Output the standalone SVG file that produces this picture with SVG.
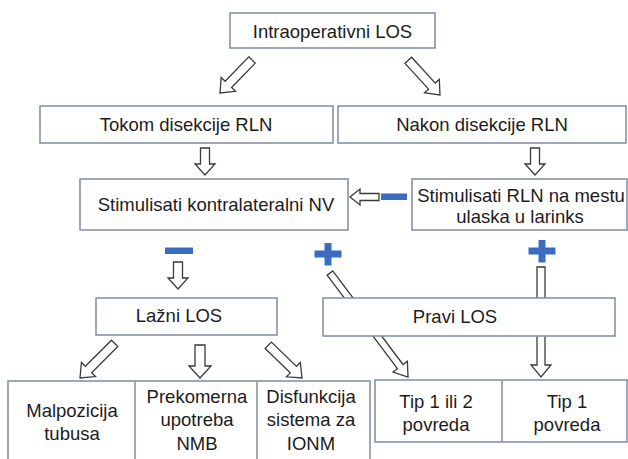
<svg xmlns="http://www.w3.org/2000/svg" width="628" height="459" viewBox="0 0 628 459">
<style>
.box{fill:#fff;stroke:#8793a8;stroke-width:1.6}
.arr{fill:#fff;stroke:#3a3a3a;stroke-width:1.3;stroke-linejoin:miter}
.sign{fill:#3a6cc2}
text{font-family:"Liberation Sans",Arial,sans-serif;font-size:18.5px;fill:#1c1c1c;text-anchor:middle}
</style>
<rect width="628" height="459" fill="#fff"/>
<g id="connectors">
<path class="arr" transform="translate(220,93) rotate(44.1)" d="M-4.5,-46 L4.5,-46 L4.5,-12 L10,-12 L0,0 L-10,-12 L-4.5,-12 Z"/>
<path class="arr" transform="translate(440,95) rotate(-42.4)" d="M-4.5,-47 L4.5,-47 L4.5,-12 L10,-12 L0,0 L-10,-12 L-4.5,-12 Z"/>
<path class="arr" transform="translate(205,175)" d="M-4.5,-27 L4.5,-27 L4.5,-11 L10,-11 L0,0 L-10,-11 L-4.5,-11 Z"/>
<path class="arr" transform="translate(535,175)" d="M-4.5,-27 L4.5,-27 L4.5,-11 L10,-11 L0,0 L-10,-11 L-4.5,-11 Z"/>
<path class="arr" transform="translate(350,197) rotate(90)" d="M-3.5,-29 L3.5,-29 L3.5,-10 L8,-10 L0,0 L-8,-10 L-3.5,-10 Z"/>
<path class="arr" transform="translate(178,289)" d="M-4.5,-27 L4.5,-27 L4.5,-11 L10,-11 L0,0 L-10,-11 L-4.5,-11 Z"/>
<path class="arr" transform="translate(408,377) rotate(-36.9)" d="M-3.5,-130 L3.5,-130 L3.5,-13 L9,-13 L0,0 L-9,-13 L-3.5,-13 Z"/>
<path class="arr" transform="translate(541,377)" d="M-4,-110 L4,-110 L4,-12 L10,-12 L0,0 L-10,-12 L-4,-12 Z"/>
<path class="arr" transform="translate(80,378) rotate(45)" d="M-4.5,-49 L4.5,-49 L4.5,-12 L10,-12 L0,0 L-10,-12 L-4.5,-12 Z"/>
<path class="arr" transform="translate(200,378)" d="M-5,-33 L5,-33 L5,-12 L11,-12 L0,0 L-11,-12 L-5,-12 Z"/>
<path class="arr" transform="translate(302,378) rotate(-45.9)" d="M-4.5,-47 L4.5,-47 L4.5,-12 L10,-12 L0,0 L-10,-12 L-4.5,-12 Z"/>
<rect class="sign" x="381" y="193.5" width="26" height="6.5"/>
<rect class="sign" x="165" y="247.5" width="28" height="6.5"/>
<path class="sign" d="M324.5,243 h7 v7.5 h10 v7 h-10 v8 h-7 v-8 h-10 v-7 h10 z"/>
<path class="sign" d="M538.5,240 h7 v7.5 h10 v7 h-10 v8 h-7 v-8 h-10 v-7 h10 z"/>
</g>
<g id="n-intra">
<rect class="box" x="230" y="13" width="205" height="35"/>
<text x="332.5" y="37.5">Intraoperativni LOS</text>
</g>
<g id="n-tokom">
<rect class="box" x="40" y="106" width="293" height="37"/>
<text x="186" y="131">Tokom disekcije RLN</text>
</g>
<g id="n-nakon">
<rect class="box" x="338" y="106" width="288" height="37"/>
<text x="482" y="131">Nakon disekcije RLN</text>
</g>
<g id="n-kontra">
<rect class="box" x="80" y="179" width="268" height="51"/>
<text x="216" y="211">Stimulisati kontralateralni NV</text>
</g>
<g id="n-rln">
<rect class="box" x="412" y="179" width="215" height="51"/>
<text x="521" y="202">Stimulisati RLN na mestu</text>
<text x="520" y="223">ulaska u larinks</text>
</g>
<g id="n-lazni">
<rect class="box" x="96" y="298" width="181" height="37"/>
<text x="179" y="322">Lažni LOS</text>
</g>
<g id="n-pravi">
<rect class="box" x="323" y="298" width="292" height="38"/>
<text x="455" y="323">Pravi LOS</text>
</g>
<g id="n-lazni-uzroci">
<rect class="box" x="8" y="381" width="362" height="95"/>
<line class="box" x1="135" y1="381" x2="135" y2="476"/>
<line class="box" x1="257" y1="381" x2="257" y2="476"/>
<text x="72" y="417">Malpozicija</text>
<text x="72" y="440">tubusa</text>
<text x="197" y="403">Prekomerna</text>
<text x="197" y="426">upotreba</text>
<text x="197" y="450">NMB</text>
<text x="311" y="403">Disfunkcija</text>
<text x="311" y="426">sistema za</text>
<text x="311" y="450">IONM</text>
</g>
<g id="n-povrede">
<rect class="box" x="375" y="380" width="252" height="62"/>
<line class="box" x1="502" y1="380" x2="502" y2="442"/>
<text x="436" y="408">Tip 1 ili 2</text>
<text x="436" y="431">povreda</text>
<text x="567" y="408">Tip 1</text>
<text x="567" y="431">povreda</text>
</g>
</svg>
